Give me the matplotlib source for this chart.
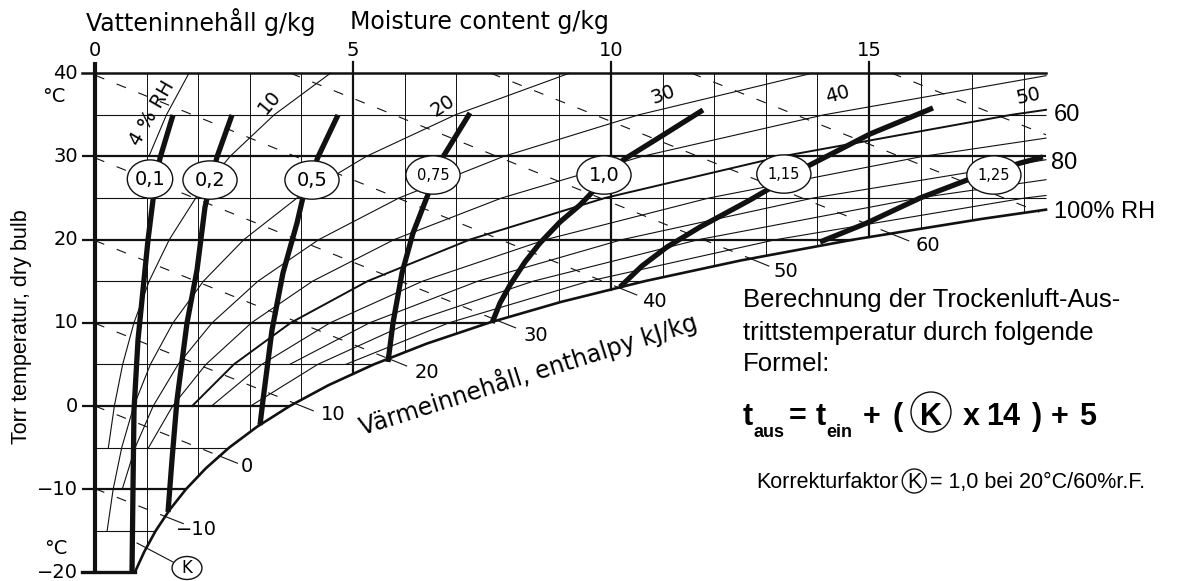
import numpy as np
import matplotlib
matplotlib.use("Agg")
import matplotlib.pyplot as plt
from matplotlib.patches import Ellipse

W, H = 1186, 581
# pixel calibration of the drawing (x: g/kg, y: degC)
X0PX, XSC = 95.0, 51.6
T0PX, TSC = 406.0, 8.32

# ---------------- data ----------------
# saturation curve (100 % RH)
sat_T = [-20, -17.5, -15, -12.5, -10, -7.5, -5, -2.5, 0, 2.5, 5, 7.5, 10, 12.5, 15, 17.5, 20, 22.5, 23.6]
sat_x = [0.771, 0.956, 1.176, 1.444, 1.763, 2.146, 2.600, 3.139, 3.775, 4.524, 5.403, 6.430, 7.632, 9.026,
         10.65, 12.52, 14.70, 17.20, 18.43]

# relative humidity lines
rh04_T = [30, 35, 40]
rh04_x = [1.044, 1.385, 1.821]
rh10_T = [-5, 0, 5, 10, 15, 20, 25, 30, 35, 40]
rh10_x = [0.259, 0.375, 0.536, 0.755, 1.049, 1.440, 1.952, 2.617, 3.473, 4.563]
rh20_T = [-15, -10, -5, 0, 5, 10, 15, 20, 25, 30, 35, 40]
rh20_x = [0.235, 0.352, 0.518, 0.752, 1.073, 1.512, 2.101, 2.885, 3.915, 5.257, 6.985, 9.195]
rh30_T = [-10, -5, 0, 5, 10, 15, 20, 25, 30, 35, 40]
rh30_x = [0.528, 0.778, 1.128, 1.611, 2.270, 3.157, 4.337, 5.891, 7.919, 10.54, 13.90]
rh40_T = [-5, 0, 5, 10, 15, 20, 25, 30, 35, 39.7]
rh40_x = [1.038, 1.505, 2.150, 3.031, 4.216, 5.797, 7.881, 10.60, 14.13, 18.43]
rh50_T = [0, 5, 10, 15, 20, 25, 30, 35, 35.6]
rh50_x = [1.883, 2.690, 3.793, 5.280, 7.263, 9.88, 13.31, 17.76, 18.43]
rh60_T = [0, 5, 10, 15, 20, 25, 30, 32.2]
rh60_x = [2.260, 3.231, 4.557, 6.347, 8.736, 11.90, 16.04, 18.43]
rh70_T = [5, 10, 15, 20, 25, 29.6]
rh70_x = [3.773, 5.323, 7.417, 10.216, 13.92, 18.43]
rh80_T = [0, 5, 10, 15, 20, 25, 27.2]
rh80_x = [3.016, 4.316, 6.091, 8.491, 11.70, 15.96, 18.43]
rh90_T = [5, 10, 15, 20, 25, 25.3]
rh90_x = [4.859, 6.861, 9.568, 13.20, 18.02, 18.43]

# enthalpy lines (kJ/kg): start and end points
enth_vals = [-10, 0, 10, 20, 30, 40, 50, 60, 70, 80]
enth_labels = ["\u221210", "0", "10", "20", "30", "40", "50", "60", "", ""]
enth_x0 = [0, 0, 0, 0, 0, 0, 3.79, 7.67, 11.56, 15.44]
enth_T0 = [-9.94, 0, 9.94, 19.88, 29.82, 39.76, 40, 40, 40, 40]
enth_x1 = [1.35, 2.40, 3.87, 5.68, 7.79, 10.14, 12.70, 15.41, 18.30, 18.43]
enth_T1 = [-13.25, -5.98, 0.32, 5.71, 10.3, 14.25, 17.72, 20.75, 23.3, 32.6]
enth_lab_x = [1.957, 2.946, 4.612, 6.434, 8.547, 10.833, 13.39, 16.14]
enth_lab_T = [-14.9, -7.33, -1.08, 3.97, 8.53, 12.62, 16.11, 19.35]

# correction factor curves K
k_labels = ["0,1", "0,2", "0,5", "0,75", "1,0", "1,15", "1,25"]
k01_x = [0.717, 0.736, 0.756, 0.833, 0.930, 1.027, 1.124, 1.260, 1.512]
k01_T = [-20.07, -10.1, -0.48, 7.93, 13.94, 19.95, 24.76, 29.8, 34.98]
k02_x = [1.415, 1.492, 1.589, 1.783, 1.977, 2.132, 2.364, 2.655]
k02_T = [-12.74, -6.49, 0.72, 9.98, 16.35, 23.92, 29.93, 34.98]
k05_x = [3.198, 3.256, 3.430, 3.643, 3.915, 4.031, 4.322, 4.709]
k05_T = [-2.28, 0.72, 9.13, 15.99, 22.0, 25.1, 29.93, 34.98]
k075_x = [5.678, 5.775, 5.950, 6.163, 6.434, 6.744, 7.267]
k075_T = [5.29, 9.98, 15.99, 20.79, 25.12, 29.93, 35.22]
k10_x = [7.694, 7.849, 8.043, 8.333, 8.624, 9.012, 9.399, 10.233, 10.95, 11.783]
k10_T = [9.98, 12.38, 14.54, 17.31, 19.59, 22.12, 24.16, 29.57, 32.33, 35.58]
k115_x = [10.174, 10.60, 11.085, 11.725, 12.694, 13.857, 15.019, 16.240]
k115_T = [14.30, 16.83, 19.11, 21.51, 24.76, 28.97, 32.69, 35.82]
k125_x = [14.05, 14.96, 15.99, 16.90, 17.93, 18.37]
k125_T = [19.71, 22.0, 25.0, 27.16, 29.2, 29.93]
k_lab_x = [1.066, 2.229, 4.205, 6.550, 9.864, 13.35, 17.42]
k_lab_T = [27.28, 27.16, 27.16, 27.76, 27.76, 27.88, 27.76]

iso_T = [-15, -10, -5, 0, 5, 10, 15, 20, 25, 30, 35]
y_ticks = [40, 30, 20, 10, 0, -10, -20]
x_ticks = [0, 5, 10, 15]
x_right = 18.43

# ---------------- figure ----------------
fig = plt.figure(figsize=(W / 100, H / 100), dpi=100)
ax = fig.add_axes([0, 0, 1, 1])
ax.set_xlim(-X0PX / XSC, (W - X0PX) / XSC)
ax.set_ylim((T0PX - H) / TSC, T0PX / TSC)
ax.axis("off")

K = "#111111"
sat_at = lambda x: np.interp(x, sat_x, sat_T)
x_at_T = lambda t: np.interp(t, sat_T, sat_x) if t <= sat_T[-1] else x_right

# grid: isotherms
for t in iso_T:
    major = (t % 10 == 0)
    ax.plot([-0.25 if major else 0, x_at_T(t)], [t, t], color=K,
            lw=1.6 if major else 0.8, zorder=1, solid_capstyle="butt")
# top & bottom edges
ax.plot([-0.25, x_right], [40, 40], color=K, lw=1.8, zorder=1)
ax.plot([-0.25, sat_x[0]], [-20, -20], color=K, lw=2.4, zorder=1)
# vertical lines
for xv in range(1, 19):
    major = (xv % 5 == 0)
    ax.plot([xv, xv], [sat_at(xv), 41.3 if major else 40], color=K,
            lw=1.6 if major else 0.7, zorder=1)
ax.plot([0, 0], [-20, 41.3], color=K, lw=3.0, zorder=3, solid_capstyle="butt")

# RH lines
rh_lines = [(rh04_x, rh04_T, 0.8), (rh10_x, rh10_T, 0.8), (rh20_x, rh20_T, 0.8),
            (rh30_x, rh30_T, 0.8), (rh40_x, rh40_T, 0.8), (rh50_x, rh50_T, 1.4),
            (rh60_x, rh60_T, 0.8), (rh70_x, rh70_T, 0.8), (rh80_x, rh80_T, 0.8),
            (rh90_x, rh90_T, 0.8)]
for xs, ts, lw in rh_lines:
    ax.plot(xs, ts, color=K, lw=lw, zorder=2)
ax.plot(sat_x, sat_T, color=K, lw=1.9, zorder=3)

# enthalpy lines
for i, h in enumerate(enth_vals):
    x0, t0, x1, t1 = enth_x0[i], enth_T0[i], enth_x1[i], enth_T1[i]
    ax.plot([x0, x1], [t0, t1], color=K, lw=0.8, ls=(0, (9, 12)), zorder=2)
    if enth_labels[i]:
        dpx = np.array([(x1 - x0) * XSC, (t1 - t0) * TSC])
        dpx = dpx / np.hypot(*dpx) * 20
        ax.plot([x1, x1 + dpx[0] / XSC], [t1, t1 + dpx[1] / TSC], color=K, lw=0.8, zorder=2)
        ax.text(enth_lab_x[i], enth_lab_T[i], enth_labels[i], fontsize=14,
                family="DejaVu Sans", ha="center", va="center", zorder=6)

# K curves
k_curves = [(k01_x, k01_T), (k02_x, k02_T), (k05_x, k05_T), (k075_x, k075_T),
            (k10_x, k10_T), (k115_x, k115_T), (k125_x, k125_T)]
for xs, ts in k_curves:
    ax.plot(xs, ts, color=K, lw=3.8, zorder=4, solid_capstyle="butt", solid_joinstyle="round")
for i, lab in enumerate(k_labels):
    w = 0.88 if i == 0 else 1.05
    ax.add_patch(Ellipse((k_lab_x[i], k_lab_T[i]), w, 4.6, facecolor="white",
                         edgecolor=K, lw=1.0, zorder=5))
    small = len(lab) > 3
    ax.text(k_lab_x[i], k_lab_T[i], lab, fontsize=10.5 if small else 14,
            family="DejaVu Sans", ha="center", va="center", zorder=6)

# K callout
ax.plot([0.814, 1.512], [-16.47, -18.75], color=K, lw=0.8, zorder=4)
ax.add_patch(Ellipse((1.783, -19.47), 0.58, 2.76, facecolor="white", edgecolor=K, lw=1.0, zorder=5))
ax.text(1.783, -19.47, "K", fontsize=12, family="DejaVu Sans", ha="center", va="center", zorder=6)

# ---------------- text in pixel coordinates ----------------
def ptxt(px, py, s, **kw):
    return fig.text(px / W, 1 - py / H, s, **kw)

for t in y_ticks:
    lab = str(t).replace("-", "\u2212")
    ptxt(78, T0PX - TSC * t, lab, fontsize=14, family="DejaVu Sans", ha="right", va="center")
ptxt(54, 97, "\u00b0C", fontsize=14, family="DejaVu Sans", ha="center", va="center")
ptxt(56, 548, "\u00b0C", fontsize=14, family="DejaVu Sans", ha="center", va="center")
for xv in x_ticks:
    ptxt(X0PX + XSC * xv, 50, str(xv), fontsize=14, family="DejaVu Sans", ha="center", va="center")

# top title
ptxt(86, 22, "Vatteninneh\u00e5ll g/kg", fontsize=17, family="DejaVu Sans", ha="left", va="center")
ptxt(350, 22, "Moisture content g/kg", fontsize=17, family="DejaVu Sans", ha="left", va="center")
ptxt(22, 327, "Torr temperatur, dry bulb", fontsize=15.5, family="Liberation Sans",
     rotation=90, ha="center", va="center")

# RH labels
rh_lab = [("4 % RH", 152, 113, 60), ("10", 270, 102, 50), ("20", 443, 106, 33),
          ("30", 663, 95, 20), ("40", 838, 95, 15), ("50", 1028, 96, 12)]
for s, px, py, rot in rh_lab:
    ptxt(px, py, s, fontsize=14, family="DejaVu Sans", rotation=rot,
         rotation_mode="anchor", ha="center", va="center")
ptxt(1054, 115, "60", fontsize=17, family="Liberation Sans", ha="left", va="center")
ptxt(1051, 163, "80", fontsize=17, family="Liberation Sans", ha="left", va="center")
ptxt(1054, 212, "100% RH", fontsize=17, family="Liberation Sans", ha="left", va="center")

# enthalpy axis title along the slanted baseline
ptxt(528, 374, "V\u00e4rmeinneh\u00e5ll, enthalpy kJ/kg", fontsize=17, family="DejaVu Sans",
     rotation=17.5, rotation_mode="anchor", ha="center", va="center")

# explanation text
for s, py in [("Berechnung der Trockenluft-Aus-", 307), ("trittstemperatur durch folgende", 340),
              ("Formel:", 371)]:
    ptxt(743, py, s, fontsize=18.5, family="Liberation Sans", ha="left", va="baseline")

fb = dict(family="Liberation Sans", weight="bold", va="baseline")
ptxt(743, 425, "t", fontsize=22, **fb)
ptxt(753, 437, "aus", fontsize=13, **fb)
ptxt(789, 425, "=", fontsize=22, **fb)
ptxt(816, 425, "t", fontsize=22, **fb)
ptxt(826, 437, "ein", fontsize=13, **fb)
ptxt(863, 425, "+", fontsize=22, **fb)
ptxt(892, 425, "(", fontsize=22, **fb)
ptxt(931, 425, "K", fontsize=22, ha="center", **fb)
ptxt(963, 425, "x", fontsize=22, **fb)
ptxt(986, 425, "14", fontsize=22, **fb)
ptxt(1032, 425, ")", fontsize=22, **fb)
ptxt(1051, 425, "+", fontsize=22, **fb)
ptxt(1079, 425, "5", fontsize=22, **fb)
fig.patches.append(Ellipse((931 / W, 1 - 412 / H), 40 / W, 40 / H, transform=fig.transFigure,
                           facecolor="none", edgecolor=K, lw=1.0))

# correction factor line, laid out piece by piece
fig.canvas.draw()
rend = fig.canvas.get_renderer()
t1 = ptxt(756, 488, "Korrekturfaktor", fontsize=15.5, family="Liberation Sans",
          ha="left", va="baseline")
x_end = t1.get_window_extent(renderer=rend).x1
cx = x_end + 4 + 12
ptxt(cx, 488, "K", fontsize=15.5, family="Liberation Sans", ha="center", va="baseline")
fig.patches.append(Ellipse((cx / W, 1 - 481 / H), 24 / W, 24 / H, transform=fig.transFigure,
                           facecolor="none", edgecolor=K, lw=1.0))
ptxt(cx + 16, 488, "= 1,0 bei 20\u00b0C/60%r.F.", fontsize=15.5, family="Liberation Sans",
     ha="left", va="baseline")

fig.savefig("out.png", dpi=100, facecolor="white")
